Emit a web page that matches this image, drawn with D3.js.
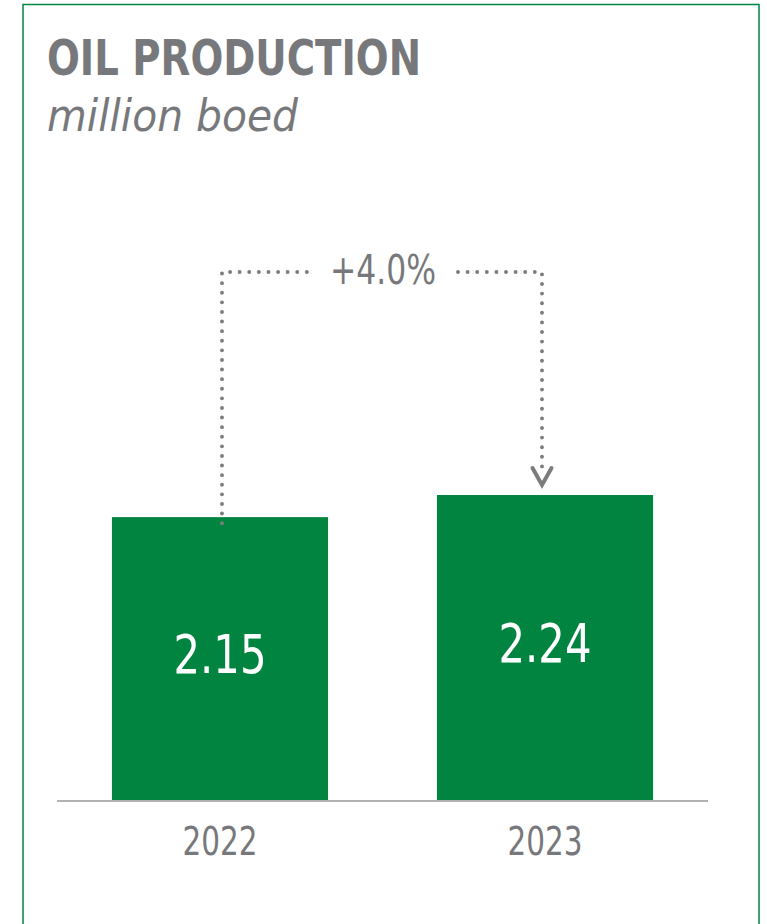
<!DOCTYPE html>
<html>
<head>
<meta charset="utf-8">
<script src="https://cdn.jsdelivr.net/npm/d3@7"></script>
<style>
  html, body { margin: 0; padding: 0; background: #fff; }
  svg { display: block; }
</style>
</head>
<body>
<div id="chart"></div>
<script>
// data
var years = ['2022', '2023'];
var production = [2.15, 2.24];
var changeLabel = '+4.0%';

var width = 767, height = 924;
var green = '#00843f', grey = '#77787b';
var narrow = '"Liberation Sans Narrow", "DejaVu Sans Condensed", "Noto Sans", sans-serif';

var svg = d3.select('#chart').append('svg')
    .attr('width', width)
    .attr('height', height);

// frame, open at the bottom
svg.append('rect')
    .attr('x', 23).attr('y', 4.5)
    .attr('width', 736).attr('height', 940)
    .attr('fill', 'none')
    .attr('stroke', green)
    .attr('stroke-width', 1.5);

svg.append('text')
    .attr('x', 47).attr('y', 75)
    .attr('font-family', narrow)
    .attr('font-weight', 'bold')
    .attr('font-size', 50)
    .attr('fill', grey)
    .attr('textLength', 374)
    .attr('lengthAdjust', 'spacingAndGlyphs')
    .text('OIL PRODUCTION');

svg.append('text')
    .attr('x', 47).attr('y', 131)
    .attr('font-family', narrow)
    .attr('font-style', 'italic')
    .attr('font-size', 44)
    .attr('fill', grey)
    .attr('textLength', 251)
    .attr('lengthAdjust', 'spacingAndGlyphs')
    .text('million boed');

var x = d3.scaleBand()
    .domain(years)
    .range([57, 708])
    .paddingInner(0.335)
    .paddingOuter(0.169);

var y = d3.scaleLinear()
    .domain([1, 2.24])
    .range([800, 495]);

var rows = years.map(function (d, i) { return {year: d, value: production[i]}; });

svg.selectAll('rect.bar').data(rows)
    .enter().append('rect')
    .attr('class', 'bar')
    .attr('x', function (d) { return x(d.year); })
    .attr('y', function (d) { return y(d.value); })
    .attr('width', x.bandwidth())
    .attr('height', function (d) { return 800 - y(d.value); })
    .attr('fill', green);

svg.selectAll('text.value').data(rows)
    .enter().append('text')
    .attr('class', 'value')
    .attr('x', function (d) { return x(d.year) + x.bandwidth() / 2; })
    .attr('y', function (d) { return (y(d.value) + 800) / 2 + 14.5; })
    .attr('text-anchor', 'middle')
    .attr('font-family', narrow)
    .attr('font-size', 54)
    .attr('fill', '#fff')
    .attr('textLength', 93)
    .attr('lengthAdjust', 'spacingAndGlyphs')
    .text(function (d) { return d.value.toFixed(2); });

// baseline
svg.append('line')
    .attr('x1', 57).attr('x2', 708)
    .attr('y1', 801).attr('y2', 801)
    .attr('stroke', '#b1b1b1')
    .attr('stroke-width', 2);

svg.selectAll('text.year').data(years)
    .enter().append('text')
    .attr('class', 'year')
    .attr('x', function (d) { return x(d) + x.bandwidth() / 2; })
    .attr('y', 855)
    .attr('text-anchor', 'middle')
    .attr('font-family', narrow)
    .attr('font-size', 39)
    .attr('fill', grey)
    .attr('textLength', 75)
    .attr('lengthAdjust', 'spacingAndGlyphs')
    .text(function (d) { return d; });

// change connector
var x1 = x(years[0]) + x.bandwidth() / 2 + 2;
var x2 = x(years[1]) + x.bandwidth() / 2 - 3;
var topY = 272;
var mid = (x1 + x2) / 2;

var dots = {
    fill: 'none',
    stroke: '#7b7c7e',
    'stroke-width': 3.9,
    'stroke-linecap': 'round',
    'stroke-dasharray': '0 9.6'
};

var left = svg.append('path')
    .attr('d', d3.line()([[x1, y(production[0]) + 6], [x1, topY], [mid - 74, topY]]));
var right = svg.append('path')
    .attr('d', d3.line()([[mid + 76, topY], [x2, topY], [x2, y(production[1]) - 25]]));
[left, right].forEach(function (p) {
    Object.keys(dots).forEach(function (k) { p.attr(k, dots[k]); });
});

svg.append('path')
    .attr('d', d3.line()([[x2 - 9.5, y(production[1]) - 27], [x2, y(production[1]) - 10], [x2 + 9.5, y(production[1]) - 27]]))
    .attr('fill', 'none')
    .attr('stroke', '#7b7c7e')
    .attr('stroke-width', 4)
    .attr('stroke-linecap', 'round')
    .attr('stroke-linejoin', 'miter');

svg.append('text')
    .attr('x', mid + 1).attr('y', 284)
    .attr('text-anchor', 'middle')
    .attr('font-family', narrow)
    .attr('font-size', 40)
    .attr('fill', grey)
    .attr('textLength', 106)
    .attr('lengthAdjust', 'spacingAndGlyphs')
    .text(changeLabel);
</script>
</body>
</html>
